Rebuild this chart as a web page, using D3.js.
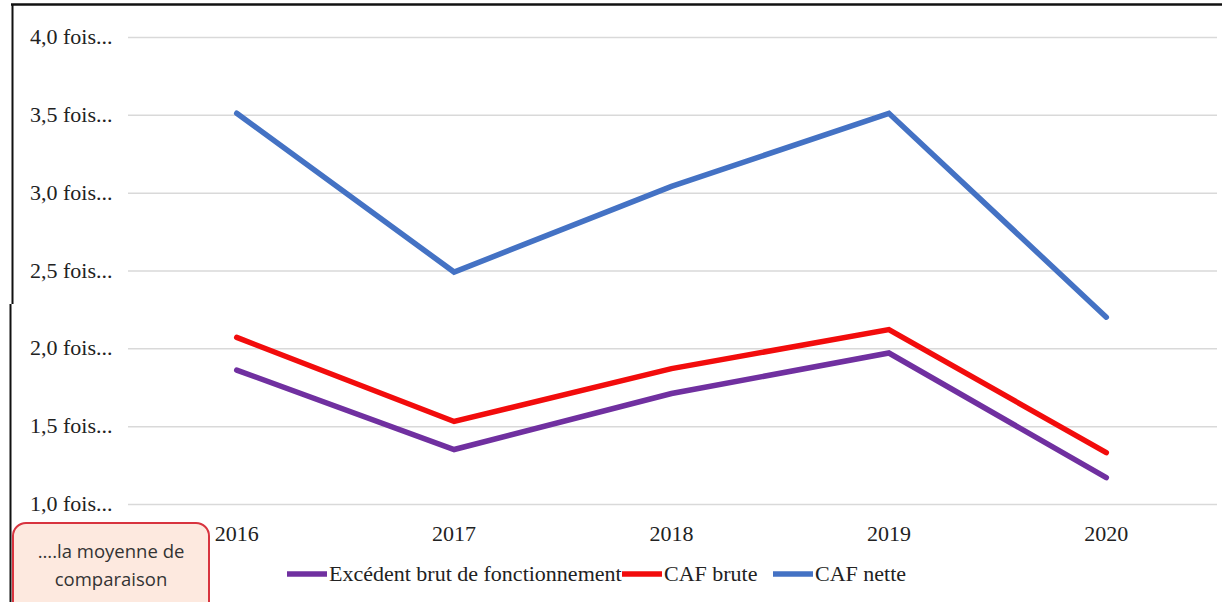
<!DOCTYPE html>
<html><head><meta charset="utf-8">
<script src="https://cdn.jsdelivr.net/npm/d3@7"></script>
<style>html,body{margin:0;padding:0;background:#fff;}svg{display:block;}</style>
</head><body>
<svg id="chart" width="1222" height="602"></svg>
<script>
const years = ["2016","2017","2018","2019","2020"];
const ebf = [1.86, 1.35, 1.71, 1.97, 1.17];
const cafBrute = [2.07, 1.53, 1.87, 2.12, 1.33];
const cafNette = [3.51, 2.49, 3.04, 3.51, 2.20];
const yTicks = [1.0, 1.5, 2.0, 2.5, 3.0, 3.5, 4.0];
const yTickLabels = ["1,0 fois...","1,5 fois...","2,0 fois...","2,5 fois...","3,0 fois...","3,5 fois...","4,0 fois..."];
const seriesNames = ["Excédent brut de fonctionnement","CAF brute","CAF nette"];
const seriesColors = ["#7030a0","#f20c0c","#4472c4"];
const noteLines = ["....la moyenne de","comparaison"];

const svg = d3.select("#chart");
const serif = "'Liberation Serif','Times New Roman',serif";

const x = d3.scaleBand().domain(years).range([128, 1215]);
const y = d3.scaleLinear().domain([1.0, 4.0]).range([504, 37]);

// frame lines
svg.append("line").attr("x1",11).attr("x2",1222).attr("y1",4.5).attr("y2",4.5).attr("stroke","#111").attr("stroke-width",2.5);
svg.append("line").attr("x1",12.5).attr("x2",12.5).attr("y1",4).attr("y2",304).attr("stroke","#111").attr("stroke-width",2);
svg.append("line").attr("x1",10.5).attr("x2",10.5).attr("y1",304).attr("y2",602).attr("stroke","#111").attr("stroke-width",2);

// gridlines
const yAxis = d3.axisLeft(y).tickValues(yTicks).tickSize(-(1217-128)).tickFormat((d,i)=>yTickLabels[i]);
const gy = svg.append("g").attr("transform","translate(128,0)").call(yAxis);
gy.select(".domain").remove();
gy.selectAll(".tick line").attr("stroke","#d9d9d9").attr("stroke-width",1.5);
gy.selectAll(".tick text").attr("x",-98).attr("text-anchor","start")
  .attr("font-family",serif).attr("font-size",22).attr("fill","#222").attr("dy","0.3em");

// x axis labels
const xAxis = d3.axisBottom(x).tickSize(0).tickPadding(0);
const gx = svg.append("g").attr("transform","translate(0,525)").call(xAxis);
gx.select(".domain").remove();
gx.selectAll(".tick text").attr("font-family",serif).attr("font-size",22).attr("fill","#222").attr("dy","0.71em");

// lines
const allSeries = [ebf, cafBrute, cafNette];
const line = d3.line().x((d,i)=>x(years[i])+x.bandwidth()/2).y(d=>y(d));
allSeries.forEach((s,k)=>{
  svg.append("path").datum(s).attr("d",line).attr("fill","none")
    .attr("stroke",seriesColors[k]).attr("stroke-width",5.5)
    .attr("stroke-linejoin","miter").attr("stroke-linecap","round");
});

// legend
const legendX = [287, 622, 773];
const legY = 574;
seriesNames.forEach((n,k)=>{
  svg.append("line").attr("x1",legendX[k]).attr("x2",legendX[k]+40).attr("y1",legY).attr("y2",legY)
    .attr("stroke",seriesColors[k]).attr("stroke-width",5.5);
  svg.append("text").attr("x",legendX[k]+42).attr("y",legY+7).text(n)
    .attr("font-family",serif).attr("font-size",22).attr("fill","#222");
});

// note box
svg.append("rect").attr("x",13).attr("y",523).attr("width",196).attr("height",92).attr("rx",13)
  .attr("fill","#fde9df").attr("stroke","#d8343f").attr("stroke-width",2);
noteLines.forEach((t,i)=>{
  svg.append("text").attr("x",111).attr("y",558+i*28).attr("text-anchor","middle").text(t)
    .attr("font-family","'Open Sans','Liberation Sans',sans-serif").attr("font-size",18.5).attr("fill","#333");
});
</script>
</body></html>
